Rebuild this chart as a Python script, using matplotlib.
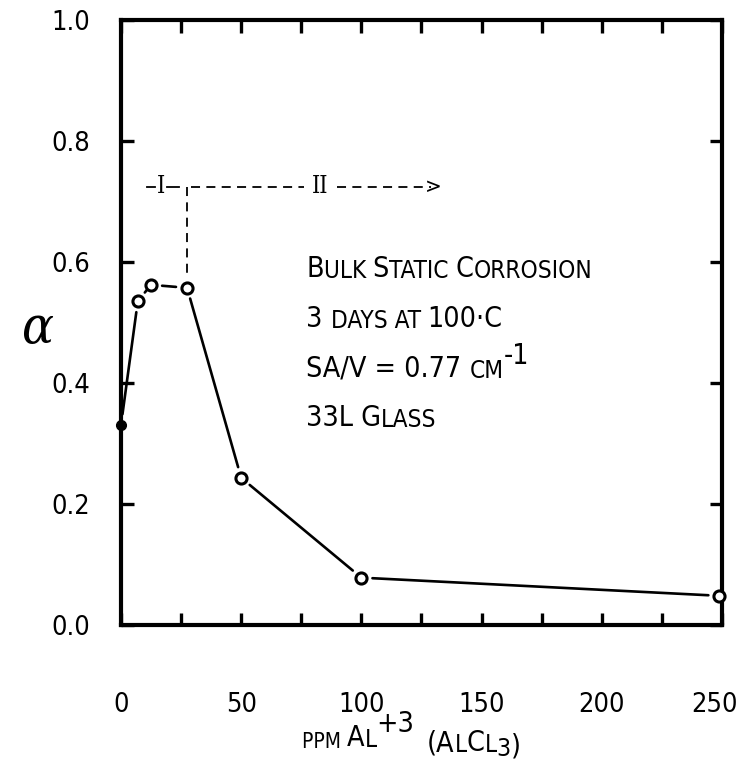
import matplotlib
matplotlib.use("Agg")
import matplotlib.pyplot as plt
from matplotlib.ticker import FixedLocator
from matplotlib.transforms import ScaledTranslation

# Al+3 concentration (ppm) and measured alpha
ppm = [0, 7, 12.5, 27.5, 50, 100, 249]
alpha = [0.33, 0.535, 0.562, 0.557, 0.243, 0.078, 0.048]
x_tick_values = [0, 25, 50, 75, 100, 125, 150, 175, 200, 225, 250]
x_tick_labels = ["0", "", "50", "", "100", "", "150", "", "200", "", "250"]
y_tick_values = [0.0, 0.2, 0.4, 0.6, 0.8, 1.0]
y_tick_labels = ["0.0", "0.2", "0.4", "0.6", "0.8", "1.0"]

plt.rcParams["font.family"] = ["DejaVu Sans"]
plt.rcParams["font.stretch"] = "condensed"

fig = plt.figure(figsize=(7.40, 7.62), dpi=100)
ax = fig.add_axes([0.1635, 0.180, 0.812, 0.794])
ax.set_xlim(0, 250)
ax.set_ylim(0, 1.0)

for s in ax.spines.values():
    s.set_linewidth(3.0)

ax.xaxis.set_major_locator(FixedLocator(x_tick_values))
ax.set_xticklabels(x_tick_labels)
ax.set_yticks(y_tick_values)
ax.set_yticklabels(y_tick_labels)
ax.tick_params(axis="both", direction="in", length=9, width=2.4,
               top=True, right=True, labelsize=19.5)
ax.tick_params(axis="x", pad=48)
ax.tick_params(axis="y", pad=22)

# pull the outermost x label slightly inwards so it stays on the page
last = ax.get_xticklabels()[-1]
last.set_transform(last.get_transform() + ScaledTranslation(-5 / 72, 0, fig.dpi_scale_trans))

# line segments stop short of the markers
for i in range(len(ppm) - 1):
    ax.annotate("", xy=(ppm[i + 1], alpha[i + 1]), xytext=(ppm[i], alpha[i]),
                arrowprops=dict(arrowstyle="-", lw=1.9, color="black",
                                shrinkA=8, shrinkB=8))

ax.plot(ppm[:1], alpha[:1], "o", ms=7, color="black", clip_on=False, zorder=5)
ax.plot(ppm[1:], alpha[1:], "o", ms=8, mfc="white", mec="black", mew=2.2,
        clip_on=False, zorder=5)

# region markers I and II
yr = 0.724
dash = (0, (5, 3.5))
ax.plot([11, 14], [yr, yr], ls="-", color="black", lw=1.3)
ax.plot([19, 24], [yr, yr], ls="-", color="black", lw=1.3)
ax.plot([29, 76], [yr, yr], ls=dash, color="black", lw=1.3)
ax.plot([90, 129], [yr, yr], ls=dash, color="black", lw=1.3)
ax.plot([27.5, 27.5], [yr, 0.578], ls=dash, color="black", lw=1.3)
ax.text(16.5, yr, "I", ha="center", va="center", fontsize=17, family="DejaVu Serif")
ax.text(83, yr, "II", ha="center", va="center", fontsize=17, family="DejaVu Serif")
ax.text(130, yr, ">", ha="center", va="center", fontsize=16)


def chain(first, pieces):
    """Place (string, size, rise) pieces one after another, starting after `first`."""
    prev = first
    for txt, size, rise in pieces:
        prev = ax.annotate(txt, xy=(1, rise), xycoords=prev, fontsize=size,
                           ha="left", va="bottom")
    return prev


big, small = 20.5, 17.5
tx = 77


def caps_line(y, pieces):
    first = ax.text(tx, y, pieces[0][0], fontsize=pieces[0][1], ha="left",
                    va="baseline")
    return chain(first, [(t, s, 0) for t, s in pieces[1:]])


caps_line(0.575, [("B", big), ("ULK ", small), ("S", big),
                  ("TATIC ", small), ("C", big), ("ORROSION", small)])
caps_line(0.493, [("3 ", big), ("DAYS AT ", small), ("100·C", big)])
t = caps_line(0.410, [("SA/V = 0.77 ", big), ("CM", small)])
chain(t, [("-1", big, 0.55)])
caps_line(0.328, [("33L G", big), ("LASS", small)])

# axis labels
ax.text(-0.14, 0.49, "α", transform=ax.transAxes, fontsize=38, style="italic",
        ha="center", va="center", family="DejaVu Serif")
xl = fig.text(0.408, 0.018, "PPM ", fontsize=15, ha="left", va="baseline")
chain(xl, [("A", big, 0), ("L", small, 0), ("+3", big, 0.6)])
xr = fig.text(0.577, 0.014, "(A", fontsize=big, ha="left", va="baseline")
chain(xr, [("L", small, 0), ("C", big, 0), ("L", small, 0), ("3", 18, -0.15),
           (")", big, 0.0)])

fig.savefig("out.png", dpi=100, facecolor="white")
